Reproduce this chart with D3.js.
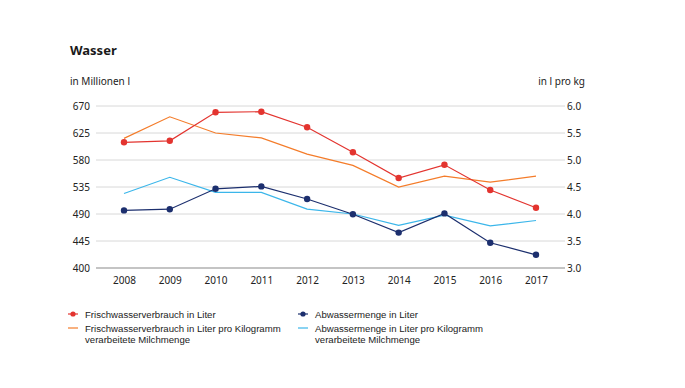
<!DOCTYPE html>
<html>
<head>
<meta charset="utf-8">
<script src="https://cdn.jsdelivr.net/npm/d3@7"></script>
<style>
  body { margin: 0; background: #fff; }
  svg { font-family: "Noto Sans", "DejaVu Sans", sans-serif; }
</style>
</head>
<body>
<svg id="chart"></svg>
<script>
const years = [2008, 2009, 2010, 2011, 2012, 2013, 2014, 2015, 2016, 2017];
const frischwasser = [609.5, 612, 659.5, 660.5, 634.5, 593, 550, 572, 530, 500.5];
const abwasser = [496, 498, 532, 536, 515, 489.5, 459, 491, 442, 422];
const frischProKg = [5.40, 5.80, 5.50, 5.41, 5.11, 4.90, 4.50, 4.70, 4.59, 4.70];
const abwasserProKg = [4.38, 4.68, 4.40, 4.40, 4.09, 4.00, 3.79, 3.98, 3.78, 3.88];
const leftTicks = [400, 445, 490, 535, 580, 625, 670];
const rightTicks = [3.0, 3.5, 4.0, 4.5, 5.0, 5.5, 6.0];

const width = 685, height = 388;
const plot = { left: 96, right: 565, top: 106, bottom: 268 };

const svg = d3.select("#chart").attr("width", width).attr("height", height);

const x = d3.scalePoint().domain(years).range([124, 536]);
const yLeft = d3.scaleLinear().domain([400, 670]).range([plot.bottom, plot.top]);
const yRight = d3.scaleLinear().domain([3.0, 6.0]).range([plot.bottom, plot.top]);

// title
svg.append("text").attr("x", 70).attr("y", 55)
    .style("font-size", "13px").style("font-weight", "bold").style("fill", "#1a1a1a")
    .text("Wasser");
svg.append("text").attr("x", 70).attr("y", 85)
    .style("font-size", "10px").style("fill", "#222")
    .text("in Millionen l");
svg.append("text").attr("x", 585).attr("y", 85).attr("text-anchor", "end")
    .style("font-size", "10px").style("fill", "#222")
    .text("in l pro kg");

// gridlines
const grid = svg.append("g");
grid.selectAll("line").data(leftTicks).join("line")
    .attr("x1", plot.left).attr("x2", plot.right)
    .attr("y1", d => yLeft(d)).attr("y2", d => yLeft(d))
    .attr("stroke", d => d === 400 ? "#c4c4c4" : "#d8d8d8")
    .attr("stroke-width", d => d === 400 ? 2 : 1);

// left axis
const leftAxis = svg.append("g")
    .attr("transform", `translate(${plot.left - 6},0)`)
    .call(d3.axisLeft(yLeft).tickValues(leftTicks).tickSize(0).tickPadding(0));
leftAxis.select(".domain").remove();
leftAxis.selectAll("text").style("font-size", "10px").style("fill", "#222")
    .style("font-family", "'Noto Sans', sans-serif");

// right axis
const rightAxis = svg.append("g")
    .attr("transform", `translate(${plot.right + 2},0)`)
    .call(d3.axisRight(yRight).tickValues(rightTicks).tickFormat(d3.format(".1f")).tickSize(0).tickPadding(0));
rightAxis.select(".domain").remove();
rightAxis.selectAll("text").style("font-size", "10px").style("fill", "#222")
    .style("font-family", "'Noto Sans', sans-serif");

// x axis
const xAxis = svg.append("g")
    .attr("transform", `translate(0,${plot.bottom + 9})`)
    .call(d3.axisBottom(x).tickSize(0).tickPadding(0));
xAxis.select(".domain").remove();
xAxis.selectAll("text").style("font-size", "10px").style("fill", "#222")
    .style("font-family", "'Noto Sans', sans-serif");

// lines
const series = [
    { values: frischProKg, scale: yRight, color: "#f47c2a", dots: false },
    { values: abwasserProKg, scale: yRight, color: "#3bb6ea", dots: false },
    { values: frischwasser, scale: yLeft, color: "#e3342f", dots: true },
    { values: abwasser, scale: yLeft, color: "#1c2f6e", dots: true }
];

series.forEach(s => {
    const line = d3.line().x((d, i) => x(years[i])).y(d => s.scale(d));
    svg.append("path").datum(s.values)
        .attr("d", line).attr("fill", "none")
        .attr("stroke", s.color).attr("stroke-width", 1.2);
    if (s.dots) {
        svg.append("g").selectAll("circle").data(s.values).join("circle")
            .attr("cx", (d, i) => x(years[i])).attr("cy", d => s.scale(d))
            .attr("r", 3.2).attr("fill", s.color);
    }
});

// legend
const legendItems = [
    { col: 0, row: 0, color: "#e3342f", dot: true, lines: ["Frischwasserverbrauch in Liter"] },
    { col: 1, row: 0, color: "#1c2f6e", dot: true, lines: ["Abwassermenge in Liter"] },
    { col: 0, row: 1, color: "#f47c2a", dot: false, lines: ["Frischwasserverbrauch in Liter pro Kilogramm", "verarbeitete Milchmenge"] },
    { col: 1, row: 1, color: "#3bb6ea", dot: false, lines: ["Abwassermenge in Liter pro Kilogramm", "verarbeitete Milchmenge"] }
];
const colX = [68, 298];
const rowY = [314, 328];

legendItems.forEach(item => {
    const g = svg.append("g").attr("transform", `translate(${colX[item.col]},${rowY[item.row]})`);
    g.append("line").attr("x1", 0).attr("x2", 10).attr("y1", 0).attr("y2", 0)
        .attr("stroke", item.color).attr("stroke-width", 1.2);
    if (item.dot) g.append("circle").attr("cx", 5).attr("cy", 0).attr("r", 2.6).attr("fill", item.color);
    item.lines.forEach((t, i) => {
        g.append("text").attr("x", 17).attr("y", 3.5 + i * 11)
            .style("font-family", "'Liberation Sans', Arial, sans-serif")
            .style("font-size", "9.6px").style("fill", "#222").text(t);
    });
});
</script>
</body>
</html>
